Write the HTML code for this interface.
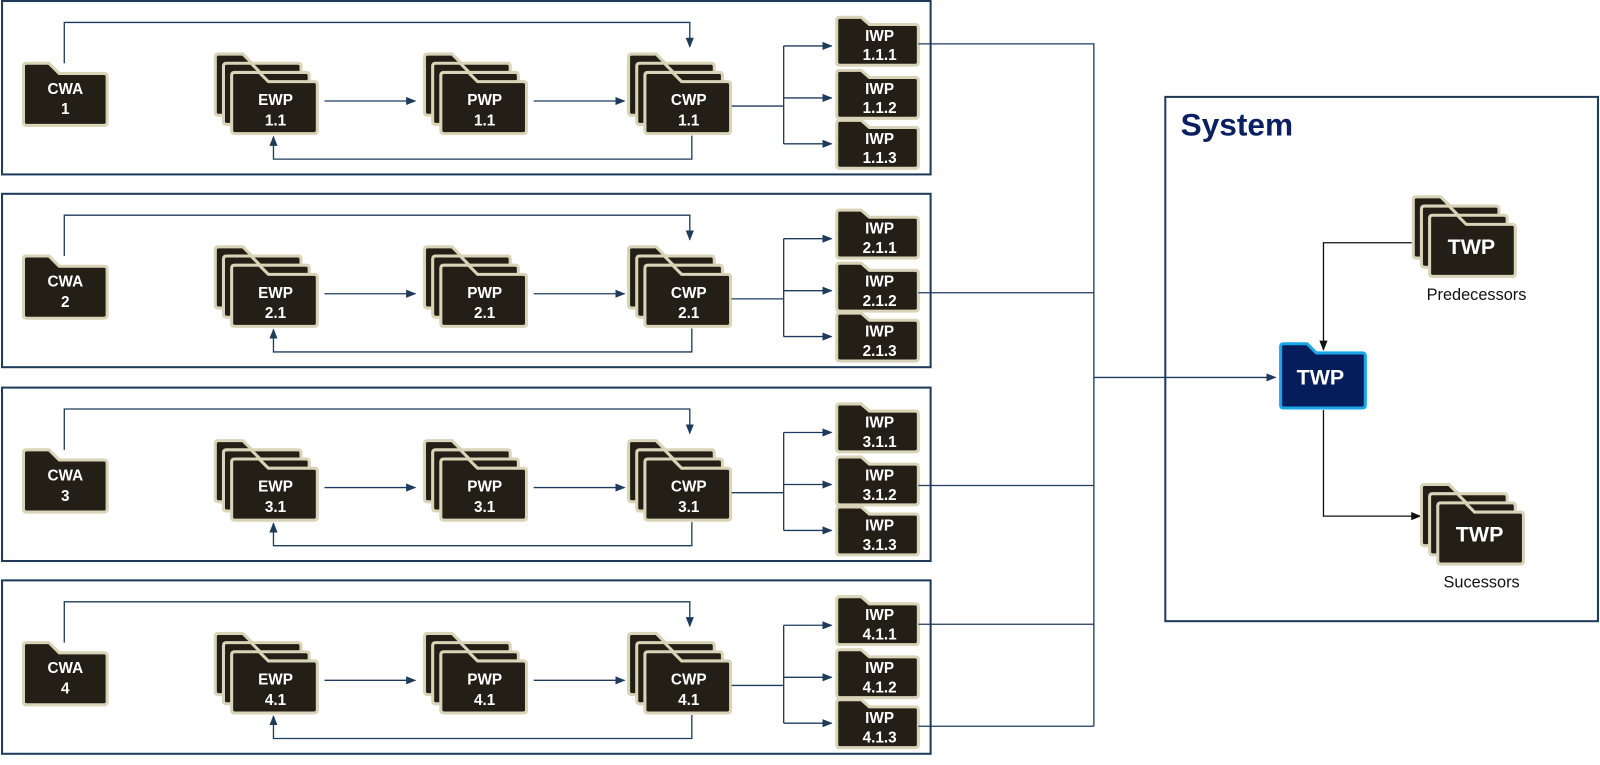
<!DOCTYPE html>
<html><head><meta charset="utf-8"><style>
html,body{margin:0;padding:0;background:#fff}
svg{display:block}
.t{font-family:"Liberation Sans",sans-serif;font-weight:bold;fill:#fff;font-size:15px;text-anchor:middle}
.ln{fill:none;stroke:#1f3b5c;stroke-width:1.3}
.bk{fill:none;stroke:#111;stroke-width:1.3}
.box{fill:none;stroke:#1f3b5c;stroke-width:2}
.fd{fill:#231f17;stroke:#d9d3b8;stroke-width:3}
</style></head><body>
<svg width="1600" height="765" viewBox="0 0 1568 750" preserveAspectRatio="none" xmlns="http://www.w3.org/2000/svg">
<defs>
<marker id="a" markerWidth="10" markerHeight="8" refX="9" refY="4" orient="auto" markerUnits="userSpaceOnUse"><path d="M0,0 L10,4 L0,8Z" fill="#1f3b5c"/></marker>
<marker id="b" markerWidth="10" markerHeight="8" refX="9" refY="4" orient="auto" markerUnits="userSpaceOnUse"><path d="M0,0 L10,4 L0,8Z" fill="#111"/></marker>
<path id="f84" class="fd" d="M3,0 H27 L36,9 H81 Q84,9 84,12 V57 Q84,60 81,60 H3 Q0,60 0,57 V3 Q0,0 3,0Z"/>
<path id="f82" class="fd" d="M3,0 H25 L35,10 H79 Q82,10 82,13 V58 Q82,61 79,61 H3 Q0,61 0,58 V3 Q0,0 3,0Z"/>
<path id="f80" class="fd" d="M3,0 H24 L32,7 H77 Q80,7 80,10 V44 Q80,47 77,47 H3 Q0,47 0,44 V3 Q0,0 3,0Z"/>
<g id="stk"><use href="#f84" x="0" y="0"/><use href="#f84" x="8" y="9"/><use href="#f84" x="16" y="18"/></g>
<g id="row">
<rect class="box" x="2" y="1" width="910" height="170"/>
<path class="ln" d="M63,62 V22 H676 V46" marker-end="url(#a)"/>
<use href="#f82" x="23" y="62"/>
<use href="#stk" x="211" y="53"/>
<use href="#stk" x="416" y="53"/>
<use href="#stk" x="616" y="53"/>
<path class="ln" d="M318,99 H407" marker-end="url(#a)"/>
<path class="ln" d="M523,99 H612" marker-end="url(#a)"/>
<path class="ln" d="M678,133 V156 H268 V134" marker-end="url(#a)"/>
<path class="ln" d="M717,104 H768 M768,45 V141"/>
<path class="ln" d="M768,45 H815" marker-end="url(#a)"/>
<path class="ln" d="M768,96 H815" marker-end="url(#a)"/>
<path class="ln" d="M768,141 H815" marker-end="url(#a)"/>
<use href="#f80" x="820" y="17"/>
<use href="#f80" x="820" y="69"/>
<use href="#f80" x="820" y="118"/>
</g>
</defs>

<use href="#row" x="0" y="0"/>
<use href="#row" x="0" y="189"/>
<use href="#row" x="0" y="379"/>
<use href="#row" x="0" y="568"/>

<g class="t">
<text x="64" y="92">CWA</text><text x="64" y="112">1</text>
<text x="270" y="103">EWP</text><text x="270" y="123">1.1</text>
<text x="475" y="103">PWP</text><text x="475" y="123">1.1</text>
<text x="675" y="103">CWP</text><text x="675" y="123">1.1</text>
<text x="862" y="40">IWP</text><text x="862" y="59">1.1.1</text>
<text x="862" y="92">IWP</text><text x="862" y="111">1.1.2</text>
<text x="862" y="141">IWP</text><text x="862" y="160">1.1.3</text>

<text x="64" y="281">CWA</text><text x="64" y="301">2</text>
<text x="270" y="292">EWP</text><text x="270" y="312">2.1</text>
<text x="475" y="292">PWP</text><text x="475" y="312">2.1</text>
<text x="675" y="292">CWP</text><text x="675" y="312">2.1</text>
<text x="862" y="229">IWP</text><text x="862" y="248">2.1.1</text>
<text x="862" y="281">IWP</text><text x="862" y="300">2.1.2</text>
<text x="862" y="330">IWP</text><text x="862" y="349">2.1.3</text>

<text x="64" y="471">CWA</text><text x="64" y="491">3</text>
<text x="270" y="482">EWP</text><text x="270" y="502">3.1</text>
<text x="475" y="482">PWP</text><text x="475" y="502">3.1</text>
<text x="675" y="482">CWP</text><text x="675" y="502">3.1</text>
<text x="862" y="419">IWP</text><text x="862" y="438">3.1.1</text>
<text x="862" y="471">IWP</text><text x="862" y="490">3.1.2</text>
<text x="862" y="520">IWP</text><text x="862" y="539">3.1.3</text>

<text x="64" y="660">CWA</text><text x="64" y="680">4</text>
<text x="270" y="671">EWP</text><text x="270" y="691">4.1</text>
<text x="475" y="671">PWP</text><text x="475" y="691">4.1</text>
<text x="675" y="671">CWP</text><text x="675" y="691">4.1</text>
<text x="862" y="608">IWP</text><text x="862" y="627">4.1.1</text>
<text x="862" y="660">IWP</text><text x="862" y="679">4.1.2</text>
<text x="862" y="709">IWP</text><text x="862" y="728">4.1.3</text>
</g>

<path class="ln" d="M900,43 H1072 V712 M900,287 H1072 M900,476 H1072 M900,612 H1072 M900,712 H1072"/>
<path class="ln" d="M1072,370 H1250" marker-end="url(#a)"/>

<rect class="box" x="1142" y="95" width="424" height="514"/>
<text x="1157" y="133" font-family="Liberation Sans,sans-serif" font-weight="bold" font-size="31" fill="#0b2060">System</text>

<path class="bk" d="M1385,238 H1297 V343" marker-end="url(#b)"/>
<path class="bk" d="M1297,402 V506 H1392" marker-end="url(#b)"/>

<use href="#stk" x="1385" y="193"/>
<use href="#stk" x="1393" y="475"/>

<path d="M3,0 H26 L35,9 H80 Q83,9 83,12 V60 Q83,63 80,63 H3 Q0,63 0,60 V3 Q0,0 3,0Z" transform="translate(1255,337)" fill="#061d5c" stroke="#19a7e8" stroke-width="3"/>

<g class="t">
<text x="1294" y="377" font-size="21">TWP</text>
<text x="1442" y="249" font-size="21">TWP</text>
<text x="1450" y="531" font-size="21">TWP</text>
</g>
<g font-family="Liberation Sans,sans-serif" font-size="16" fill="#111" text-anchor="middle">
<text x="1447" y="294">Predecessors</text>
<text x="1452" y="576">Sucessors</text>
</g>
</svg>
</body></html>
